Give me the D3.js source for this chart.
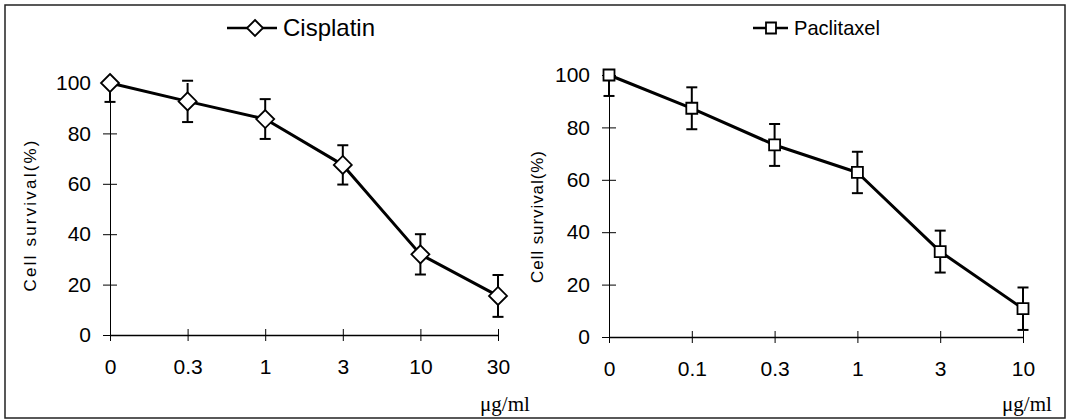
<!DOCTYPE html>
<html>
<head>
<meta charset="utf-8">
<script src="https://d3js.org/d3.v7.min.js"></script>
<style>
  body { margin: 0; background: #fff; }
  #chart { display: block; }
  .axis text { font-family: "Liberation Sans", Arial, sans-serif; font-size: 22px; fill: #000; }
  .axis path, .axis line { stroke: #000; }
  .line { fill: none; stroke: #000; stroke-width: 3px; stroke-linejoin: round; }
  .err { stroke: #000; stroke-width: 2px; }
  .marker { fill: #fff; stroke: #000; stroke-width: 1.8px; }
  .title { font-family: "Liberation Sans", Arial, sans-serif; font-size: 17px; fill: #000; }
  .unit { font-family: "Liberation Serif", "Times New Roman", serif; font-size: 21px; fill: #000; }
  .legend { font-family: "Liberation Sans", Arial, sans-serif; fill: #000; }
</style>
</head>
<body>
<svg id="chart"></svg>
<script>
// values
var cisDoses = ["0", "0.3", "1", "3", "10", "30"];
var cisSurvival = [100, 92.7, 85.7, 67.5, 32, 15.5];
var cisError = [7.5, 8.2, 7.9, 7.8, 8, 8.3];

var pacDoses = ["0", "0.1", "0.3", "1", "3", "10"];
var pacSurvival = [100, 87.3, 73.3, 62.8, 32.6, 10.8];
var pacError = [8, 8, 8, 7.9, 8, 8.1];

var yTicks = [0, 20, 40, 60, 80, 100];

var width = 1068, height = 420;

var svg = d3.select("#chart")
    .attr("width", width)
    .attr("height", height);

// frame round both panels
svg.append("rect")
    .attr("x", 5).attr("y", 5)
    .attr("width", 1060).attr("height", 413)
    .attr("fill", "none")
    .attr("stroke", "#222")
    .attr("stroke-width", 1.5);

function panel(opts) {
  var data = opts.doses.map(function(d, i) {
    return {dose: d, value: opts.values[i], err: opts.errors[i]};
  });

  var x = d3.scalePoint().domain(opts.doses).range([opts.x0, opts.x1]);
  var y = d3.scaleLinear().domain([0, 100]).range([opts.y0, opts.y1]);

  var g = svg.append("g");

  // y axis
  var ya = g.append("g")
      .attr("class", "axis")
      .attr("transform", "translate(" + opts.x0 + ",0)")
      .call(d3.axisLeft(y).tickValues(yTicks).tickSize(7).tickSizeOuter(0).tickPadding(12));
  ya.selectAll(".tick line").attr("x1", -7).attr("x2", 7);
  ya.select(".domain").attr("stroke-width", 1).attr("stroke", "#333");
  ya.selectAll("text").style("font-size", opts.tickFont + "px");

  // x axis
  var xa = g.append("g")
      .attr("class", "axis")
      .attr("transform", "translate(0," + opts.y0 + ")")
      .call(d3.axisBottom(x).tickSize(6).tickSizeOuter(0).tickPadding(18));
  xa.selectAll(".tick line").attr("y1", -6).attr("y2", 6);
  xa.select(".domain").attr("stroke-width", 1.5);
  xa.selectAll("text").style("font-size", opts.tickFont + "px");

  // y title
  g.append("text")
      .attr("class", "title")
      .attr("transform", "translate(" + opts.titleX + "," + opts.titleY + ") rotate(-90)")
      .attr("text-anchor", "middle")
      .attr("dy", "0.35em")
      .attr("textLength", opts.titleLen)
      .text("Cell survival(%)");

  // unit
  g.append("text")
      .attr("class", "unit")
      .attr("x", opts.unitX)
      .attr("y", 411)
      .attr("text-anchor", "middle")
      .text("\u03bcg/ml");

  // error bars
  var eb = g.selectAll(".errbar").data(data).enter().append("g").attr("class", "errbar");
  eb.append("line").attr("class", "err")
      .attr("x1", d => x(d.dose)).attr("x2", d => x(d.dose))
      .attr("y1", d => y(Math.min(100, d.value + d.err))).attr("y2", d => y(d.value - d.err));
  eb.filter(d => d.value + d.err <= 101).append("line").attr("class", "err")
      .attr("x1", d => x(d.dose) - 5.5).attr("x2", d => x(d.dose) + 5.5)
      .attr("y1", d => y(d.value + d.err)).attr("y2", d => y(d.value + d.err));
  eb.append("line").attr("class", "err")
      .attr("x1", d => x(d.dose) - 5.5).attr("x2", d => x(d.dose) + 5.5)
      .attr("y1", d => y(d.value - d.err)).attr("y2", d => y(d.value - d.err));

  var line = d3.line().x(d => x(d.dose)).y(d => y(d.value));
  g.append("path").datum(data).attr("class", "line").attr("d", line);

  g.selectAll(".marker").data(data).enter().append("path")
      .attr("class", "marker")
      .attr("transform", d => "translate(" + x(d.dose) + "," + y(d.value) + ")")
      .attr("d", opts.shape);

  // legend
  var lg = g.append("g").attr("transform", "translate(0," + 28 + ")");
  lg.append("line")
      .attr("x1", opts.legX0).attr("x2", opts.legX1)
      .attr("y1", 0).attr("y2", 0)
      .attr("stroke", "#000").attr("stroke-width", 2.5);
  lg.append("path")
      .attr("class", "marker")
      .attr("transform", "translate(" + opts.legMark + ",0)")
      .attr("d", opts.legShape);
  lg.append("text")
      .attr("class", "legend")
      .attr("x", opts.legText)
      .attr("y", 0)
      .attr("dy", "0.35em")
      .attr("textLength", opts.legLen)
      .attr("lengthAdjust", "spacingAndGlyphs")
      .style("font-size", opts.legFont + "px")
      .text(opts.name);
}

var diamond = "M0,-9L9,0L0,9L-9,0Z";
var diamondSmall = "M0,-8L8,0L0,8L-8,0Z";
var square = "M-5.5,-5.5H5.5V5.5H-5.5Z";
var squareSmall = "M-5,-5.5H5V5.5H-5Z";

panel({
  name: "Cisplatin", doses: cisDoses, values: cisSurvival, errors: cisError,
  x0: 110, x1: 498, y0: 335, y1: 83, tickFont: 21,
  titleX: 30, titleY: 216, titleLen: 151, unitX: 505,
  shape: diamond, legShape: diamondSmall,
  legX0: 227, legX1: 277, legMark: 255, legText: 283, legLen: 92, legFont: 24
});

panel({
  name: "Paclitaxel", doses: pacDoses, values: pacSurvival, errors: pacError,
  x0: 609, x1: 1023, y0: 337, y1: 75, tickFont: 21,
  titleX: 537, titleY: 217, titleLen: 132, unitX: 1027,
  shape: square, legShape: squareSmall,
  legX0: 753, legX1: 788, legMark: 771, legText: 794, legLen: 86, legFont: 21
});
</script>
</body>
</html>
